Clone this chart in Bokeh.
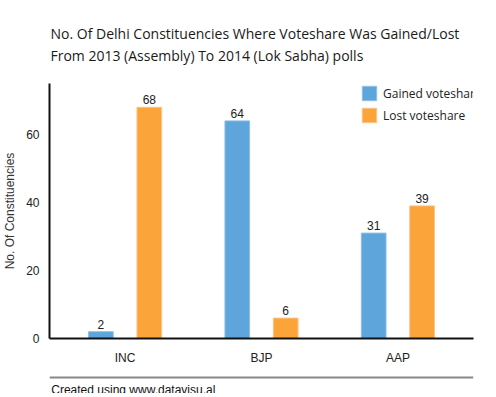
from bokeh.plotting import figure
from bokeh.models import (ColumnDataSource, FactorRange, Range1d, FixedTicker, Legend, LegendItem,
                          Label, Span, Title)
from bokeh.transform import dodge
from bokeh.layouts import column
from bokeh.embed import file_html
from bokeh.resources import INLINE
from bokeh.core.properties import value

parties = ["INC", "BJP", "AAP"]
gained = [2, 64, 31]
lost = [68, 6, 39]
series_names = ["Gained voteshare", "Lost voteshare"]
y_ticks = [0, 20, 40, 60]
title_lines = ["No. Of Delhi Constituencies Where Voteshare Was Gained/Lost",
               "From 2013 (Assembly) To 2014 (Lok Sabha) polls"]
y_label = "No. Of Constituencies"
footer = "Created using www.datavisu.al"

BLUE = "#5DA5DA"
ORANGE = "#FAA43A"

src = ColumnDataSource(dict(party=parties, gained=gained, lost=lost,
                            gained_txt=[str(v) for v in gained],
                            lost_txt=[str(v) for v in lost]))

p = figure(width=480, height=373, output_backend="svg", toolbar_location=None,
           x_range=FactorRange(factors=parties, range_padding=0.0362),
           y_range=Range1d(0, 75),
           min_border_left=44, min_border_right=7, min_border_top=83, min_border_bottom=35)
p.outline_line_color = None
p.grid.visible = False
p.background_fill_color = "white"
p.border_fill_color = "white"

p.title = Title(text=title_lines[0] + "\n" + title_lines[1], align="left", offset=1,
                standoff=36, text_font="Open Sans", text_font_size="14px",
                text_font_style="normal", text_color="#1a1a1a", text_line_height=1.2)

off = 0.1775
bw = 0.181
r1 = p.vbar(x=dodge("party", -off, range=p.x_range), top="gained", width=bw, source=src,
            fill_color=BLUE, line_color="#8cc0e6", line_width=1)
r2 = p.vbar(x=dodge("party", off, range=p.x_range), top="lost", width=bw, source=src,
            fill_color=ORANGE, line_color="#fcc383", line_width=1)

for col, txt, o in (("gained", "gained_txt", -off), ("lost", "lost_txt", off)):
    p.text(x=dodge("party", o, range=p.x_range), y=col, text=txt, source=src,
           text_align="center", text_baseline="bottom", y_offset=-3,
           text_font=value("Liberation Sans"), text_font_size="12px", text_color="#222222")

# axes
p.yaxis.ticker = FixedTicker(ticks=y_ticks)
p.yaxis.axis_label = y_label
for ax in (p.xaxis[0], p.yaxis[0]):
    ax.axis_line_color = "#111111"
    ax.axis_line_width = 2
    ax.major_tick_line_color = None
    ax.minor_tick_line_color = None
    ax.major_label_text_font = "Liberation Sans"
    ax.major_label_text_font_size = "12px"
    ax.major_label_text_color = "#222222"
p.yaxis.major_label_standoff = 4
p.xaxis.major_label_standoff = 6
p.yaxis.axis_label_text_font = "Liberation Sans"
p.yaxis.axis_label_text_font_size = "12px"
p.yaxis.axis_label_text_font_style = "normal"
p.yaxis.axis_label_text_color = "#333333"
p.yaxis.axis_label_standoff = 6

legend = Legend(items=[LegendItem(label=series_names[0], renderers=[r1]),
                       LegendItem(label=series_names[1], renderers=[r2])],
                location=(311, 214), orientation="vertical",
                glyph_width=18, glyph_height=18, spacing=4, padding=0, margin=0,
                label_standoff=5, label_width=105, label_text_font="Open Sans",
                label_text_font_size="12px",
                label_text_color="#222222", border_line_color=None, background_fill_alpha=0,
                label_height=18)
p.add_layout(legend)

f = figure(width=480, height=20, output_backend="svg", toolbar_location=None,
           x_range=Range1d(0, 480), y_range=Range1d(0, 20),
           min_border=0, min_border_left=0, min_border_right=0, min_border_top=0, min_border_bottom=0)
f.axis.visible = False
f.grid.visible = False
f.outline_line_color = None
f.add_layout(Span(location=16, dimension="width", line_color="#888888", line_width=2))
f.add_layout(Label(x=2, y=4, text=footer, text_font="Liberation Sans", text_font_size="12px",
                   text_color="#111111", text_baseline="middle"))

layout = column(p, f, spacing=0)
open("out.html", "w").write(file_html(layout, INLINE))
